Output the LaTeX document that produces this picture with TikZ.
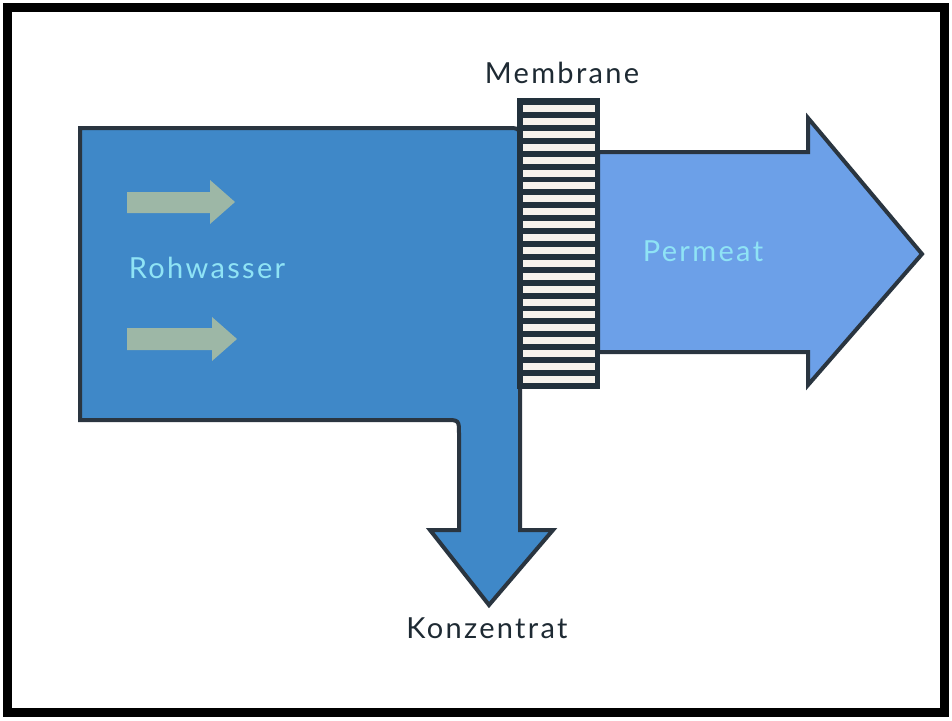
\documentclass[tikz,border=0pt]{standalone}
\usepackage{fontspec}
\setmainfont{Lato}[LetterSpace=8]
\definecolor{mainblue}{HTML}{3F88C8}
\definecolor{permblue}{HTML}{6CA0E8}
\definecolor{outl}{HTML}{2A3540}
\definecolor{flowarrow}{HTML}{9DB7A6}
\definecolor{lighttext}{HTML}{8FE3F5}
\definecolor{darktext}{HTML}{1E2A33}
\definecolor{membdark}{HTML}{22313C}
\definecolor{membwhite}{HTML}{F6F2EC}
\tikzset{
  shapeline/.style={draw=outl, line width=4pt, line join=miter},
  lbl/.style={font=\fontsize{29}{32}\selectfont, inner sep=0pt},
}
\begin{document}
\begin{tikzpicture}[x=1pt,y=-1pt]
\useasboundingbox (0,0) rectangle (952,720);
\fill[white] (0,0) rectangle (952,720);
% frame
\draw[line width=9pt, black] (7.5,7.5) rectangle (944.5,712.5);
% main body with Konzentrat arrow
\path[shapeline, fill=mainblue]
  (80,420) -- (80,128) -- (506,128) .. controls (520,128) .. (520,142)
  -- (520,530) -- (553,530) -- (489,605) -- (430,530) -- (459,530)
  -- (459,434) .. controls (459,420) .. (445,420) -- cycle;
% Permeat arrow
\path[shapeline, fill=permblue]
  (598,152) -- (808,152) -- (808,118) -- (922,254) -- (808,385) -- (808,352) -- (598,352) -- cycle;
% membrane
\fill[membdark] (517,98) rectangle (600,389);
\foreach \i in {0,...,21}{
  \fill[membwhite] (523,105+12.9*\i) rectangle (595,112+12.9*\i);
}
% flow arrows
\fill[flowarrow] (127,192) -- (210,192) -- (210,180) -- (235,202) -- (210,224) -- (210,213) -- (127,213) -- cycle;
\fill[flowarrow] (127,328) -- (212,328) -- (212,317) -- (237,339) -- (212,361) -- (212,350) -- (127,350) -- cycle;
% labels
\node[lbl, text=lighttext] (rohwasser) at (207,268) {Rohwasser};
\node[lbl, text=lighttext] (permeat) at (703,251) {Permeat};
\node[lbl, text=darktext] (membrane) at (562,73) {Membrane};
\node[lbl, text=darktext] (konzentrat) at (487,628) {Konzentrat};
\end{tikzpicture}
\end{document}
